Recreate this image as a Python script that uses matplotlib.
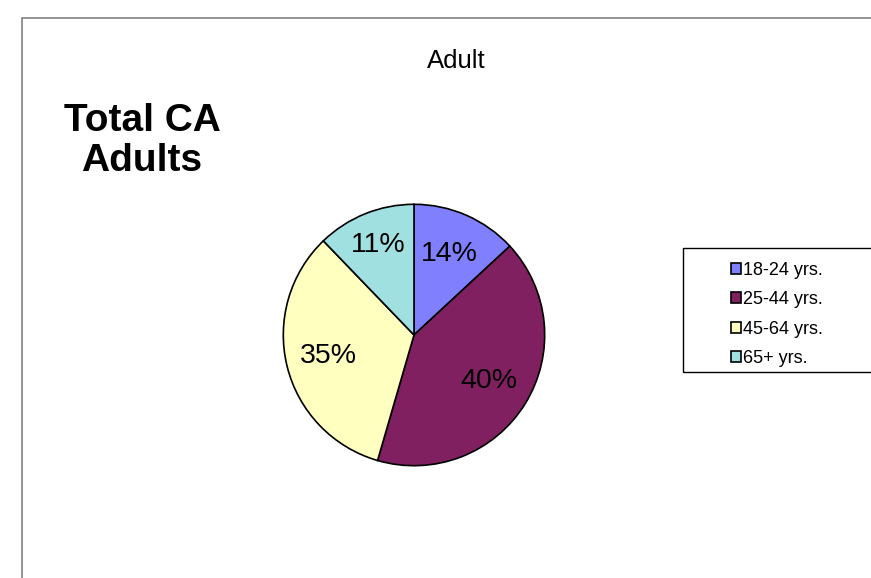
import matplotlib.pyplot as plt
import matplotlib.patches as patches
from matplotlib.patches import Patch

plt.rcParams['font.family'] = ['Liberation Sans', 'DejaVu Sans']

# data
age_groups = ['18-24 yrs.', '25-44 yrs.', '45-64 yrs.', '65+ yrs.']
# wedge sizes as drawn, and the percentage labels as printed on the chart
shares = [13.1, 41.4, 33.3, 12.2]
pct_labels = ['14%', '40%', '35%', '11%']
colors = ['#8080FF', '#802060', '#FFFFC0', '#A0E0E0']

W, H = 871, 578
fig = plt.figure(figsize=(W / 100, H / 100), dpi=100)
fig.patch.set_facecolor('white')

# outer chart frame (cut off at right and bottom)
fig.patches.append(patches.Rectangle((22 / W, -0.1), 1.2, 1 - 18 / H + 0.1,
                                     transform=fig.transFigure, fill=False,
                                     edgecolor='#808080', linewidth=1.2))

fig.text(456 / W, 1 - 68 / H, 'Adult', ha='center', va='baseline', fontsize=18.5)
fig.text(142 / W, 1 - 141 / H, 'Total CA\nAdults', ha='center', va='center',
         fontsize=28, fontweight='bold', linespacing=1.13)

# pie
cx, cy, r = 414, 335, 132
ax = fig.add_axes(((cx - r) / W, 1 - (cy + r) / H, 2 * r / W, 2 * r / H))
wedges, texts, autotexts = ax.pie(
    shares, colors=colors, startangle=90, counterclock=False,
    autopct='%1.0f%%', pctdistance=0.675, radius=1,
    wedgeprops=dict(edgecolor='black', linewidth=1.2),
    textprops=dict(fontsize=20.5, color='black'))
for t, lbl in zip(autotexts, pct_labels):
    t.set_text(lbl)
# the small top-left label sits a bit further out
x, y = autotexts[3].get_position()
autotexts[3].set_position((x * 1.1, y * 1.1))
ax.set_xlim(-1.01, 1.01)
ax.set_ylim(-1.01, 1.01)
ax.set_aspect('equal')
ax.axis('off')

# legend box
fig.patches.append(patches.Rectangle((683 / W, 1 - 372 / H), 1.0, 124 / H,
                                     transform=fig.transFigure, fill=False,
                                     edgecolor='black', linewidth=1.0))
handles = [Patch(facecolor=c, edgecolor='black', linewidth=1.2) for c in colors]
fig.legend(handles, age_groups, loc='upper left',
           bbox_to_anchor=(722 / W, 1 - 253 / H), frameon=False,
           fontsize=13, handlelength=0.55, handleheight=0.55,
           handletextpad=0.12, labelspacing=0.68, borderpad=0)

fig.savefig('out.png', dpi=100, facecolor='white')
